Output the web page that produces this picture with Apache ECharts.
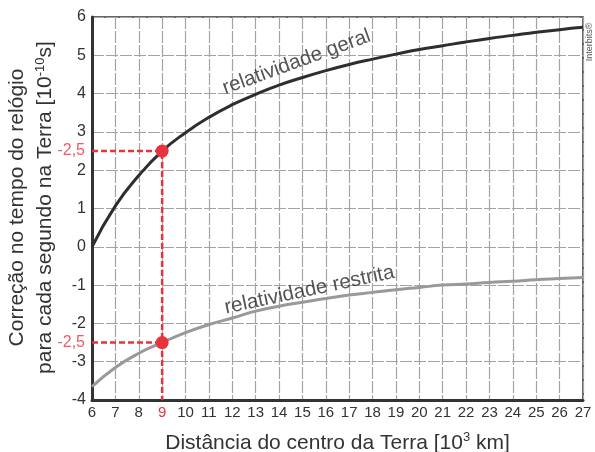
<!DOCTYPE html>
<html>
<head>
<meta charset="utf-8">
<script src="https://cdn.jsdelivr.net/npm/echarts@6/dist/echarts.min.js"></script>
<style>
html,body{margin:0;padding:0;background:#fff;}
#c{width:595px;height:452px;}
</style>
</head>
<body>
<div id="c"></div>
<script>
// Data
var distances = [6,7,8,9,10,11,12,13,14,15,16,17,18,19,20,21,22,23,24,25,26,27];
var relGeral = [0,1.07,1.86,2.5,2.98,3.38,3.71,3.98,4.22,4.42,4.6,4.76,4.9,5.03,5.15,5.25,5.35,5.44,5.52,5.6,5.67,5.73];
var relRestrita = [-3.65,-3.15,-2.78,-2.5,-2.24,-2.03,-1.86,-1.68,-1.55,-1.45,-1.35,-1.26,-1.19,-1.12,-1.06,-1.0,-0.97,-0.93,-0.9,-0.86,-0.83,-0.8];
var highlightX = 9;
var highlightGeral = 2.5;
var highlightRestrita = -2.5;
var highlightLabels = ['-2,5', '-2,5'];
var curveLabels = ['relatividade geral', 'relatividade restrita'];
var curveLabelPos = [[14.75, 4.82], [15.3, -1.13]];
var curveLabelAngles = [20, 12];
var xMin = 6, xMax = 27, yMin = -4, yMax = 6;

var RED = '#e8323c';
var FONT = '"Liberation Sans", Arial, sans-serif';

function zip(xs, ys){ return xs.map(function(x,i){ return [x, ys[i]]; }); }

var chart = echarts.init(document.getElementById('c'), null, {renderer:'canvas'});
chart.setOption({
  animation: false,
  backgroundColor: '#fff',
  textStyle: {fontFamily: FONT},
  grid: {left: 92, right: 12, top: 17, bottom: 52, containLabel: false, outerBoundsMode: 'none',
    show: true, borderColor: '#333', borderWidth: 1.5, backgroundColor: 'transparent'},
  xAxis: {
    type: 'value', min: xMin, max: xMax, interval: 1,
    axisLine: {onZero: false, lineStyle: {color: '#333', width: 3}},
    axisTick: {show: false},
    axisLabel: {
      margin: 5, fontSize: 15, fontFamily: FONT,
      color: function(v){ return Number(v) === highlightX ? RED : '#333'; }
    },
    splitLine: {show: true, lineStyle: {color: '#a3a3a3', width: 1.2, type: [12,2]}},
    name: 'Distância do centro da Terra [10{sup|3} km]',
    nameLocation: 'middle', nameGap: 31,
    nameTextStyle: {fontSize: 21, color: '#333', fontFamily: FONT,
      rich: {sup: {fontSize: 13, verticalAlign: 'top', padding: [0,0,12,0], color:'#333', fontFamily: FONT}}}
  },
  yAxis: {
    type: 'value', min: yMin, max: yMax, interval: 1,
    axisLine: {lineStyle: {color: '#333', width: 3}},
    axisTick: {show: false},
    axisLabel: {margin: 6, fontSize: 16, color: '#333', fontFamily: FONT},
    splitLine: {show: true, lineStyle: {color: '#a3a3a3', width: 1.2, type: [12,2]}}
  },
  graphic: [
    {type: 'text', x: 17, y: 207.5, rotation: Math.PI/2,
      style: {text: 'Correção no tempo do relógio', fill: '#333', font: '21px ' + FONT, textAlign: 'center', textVerticalAlign: 'middle'}},
    {type: 'text', x: 45, y: 207.5, rotation: Math.PI/2,
      style: {text: '{a|para cada segundo na Terra [10}{s|-10}{a|s]}', textAlign: 'center', textVerticalAlign: 'middle',
        rich: {a: {fill: '#333', font: '21px ' + FONT}, s: {fill: '#333', font: '13px ' + FONT, verticalAlign: 'top', padding: [0,0,10,0]}}}},
    {type: 'text', x: 590, y: 42, rotation: Math.PI/2,
      style: {text: 'Interbits®', fill: '#555', font: '9px ' + FONT, textAlign: 'center', textVerticalAlign: 'middle'}}
  ],
  series: [
    {type: 'line', data: zip(distances, relRestrita), smooth: true, showSymbol: false,
      lineStyle: {color: '#999', width: 3}, z: 3},
    {type: 'line', data: zip(distances, relGeral), smooth: true, showSymbol: false,
      lineStyle: {color: '#2e2e2e', width: 3}, z: 3},
    {type: 'line', data: [[xMin, highlightGeral],[highlightX, highlightGeral],[highlightX, yMin]], showSymbol: false,
      lineStyle: {color: RED, width: 2.5, type: [6,3]}, z: 4},
    {type: 'line', data: [[xMin, highlightRestrita],[highlightX, highlightRestrita]], showSymbol: false,
      lineStyle: {color: RED, width: 2.5, type: [6,3]}, z: 4},
    {type: 'scatter', data: [[highlightX, highlightGeral],[highlightX, highlightRestrita]], symbol: 'circle', symbolSize: 13,
      itemStyle: {color: RED, opacity: 1}, z: 6},
    {type: 'scatter', data: [[xMin, highlightGeral],[xMin, highlightRestrita]], symbolSize: 0, z: 5,
      label: {show: true, position: 'left', distance: 7, color: RED, fontSize: 16, fontFamily: FONT,
        formatter: function(p){ return highlightLabels[p.dataIndex]; }}},
    {type: 'scatter', data: curveLabelPos, symbolSize: 0, z: 5,
      label: {show: true, position: 'inside', fontSize: 20.5, color: '#2a2a2a', fontFamily: FONT,
        formatter: function(p){ return curveLabels[p.dataIndex]; }},
      labelLayout: function(p){ return {rotate: curveLabelAngles[p.dataIndex]}; }}
  ]
});
</script>
</body>
</html>
